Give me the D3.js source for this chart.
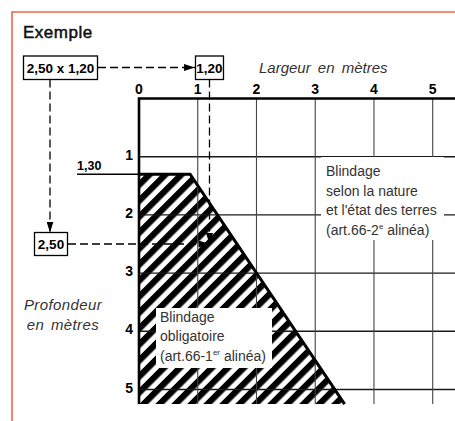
<!DOCTYPE html>
<html>
<head>
<meta charset="utf-8">
<script src="https://cdn.jsdelivr.net/npm/d3@7"></script>
<style>
  body { margin: 0; background: #fff; }
  svg { display: block; font-family: "Liberation Sans", Arial, sans-serif; }
</style>
</head>
<body>
<div id="vis-container"></div>
<script>
// Set dimensions for the drawing
const width = 455;
const height = 421;

// data
const xTicks = [0, 1, 2, 3, 4, 5];          // largeur en mètres
const yTicks = [1, 2, 3, 4, 5];             // profondeur en mètres
const yMax = 5.25;
// zone of mandatory shoring: [largeur, profondeur]
const zone = [[0, 1.3], [0.87, 1.3], [3.5, 5.25], [0, 5.25]];
const minDepth = 1.3;
const exampleDepth = 2.5;
const exampleWidth = 1.2;
const exampleLabel = "2,50 x 1,20";
const depthLabel = "2,50";
const widthLabel = "1,20";
const minDepthLabel = "1,30";
const noteRight = ["Blindage", "selon la nature", "et l'état des terres", ["(art.66-2", "e", " alinéa)"]];
const noteLeft = ["Blindage", "obligatoire", ["(art.66-1", "er", " alinéa)"]];

const svg = d3.select("#vis-container")
  .append("svg")
  .attr("width", width)
  .attr("height", height);

const xScale = d3.scaleLinear().domain([0, 5]).range([139, 432.7]);
const yScale = d3.scaleLinear().domain([0, 5]).range([98.5, 389.5]);

const defs = svg.append("defs");

// hatch pattern for the zone
const pat = defs.append("pattern")
  .attr("id", "hatch")
  .attr("patternUnits", "userSpaceOnUse")
  .attr("width", 11.3)
  .attr("height", 11.3)
  .attr("patternTransform", "rotate(45)");
pat.append("rect").attr("width", 11.3).attr("height", 11.3).attr("fill", "#fff");
pat.append("rect").attr("width", 6.2).attr("height", 11.3).attr("fill", "#000");

defs.append("marker")
  .attr("id", "arrow")
  .attr("viewBox", "0 0 11 7")
  .attr("refX", 11)
  .attr("refY", 3.5)
  .attr("markerWidth", 11)
  .attr("markerHeight", 7)
  .attr("markerUnits", "userSpaceOnUse")
  .attr("orient", "auto")
  .append("path")
  .attr("d", "M0,0 L11,3.5 L0,7 Z")
  .attr("fill", "#000");

// orange frame (only top and left visible)
svg.append("path")
  .attr("d", `M12,${height} L12,12 L${width},12`)
  .attr("fill", "none")
  .attr("stroke", "#f26448")
  .attr("stroke-width", 1.6);

svg.append("text")
  .attr("x", 23)
  .attr("y", 37.5)
  .attr("font-size", "17px")
  .attr("letter-spacing", "0.5px")
  .attr("fill", "#111")
  .attr("stroke", "#111")
  .attr("stroke-width", 0.5)
  .text("Exemple");

// hatched zone
const zoneLine = d3.line().x(d => xScale(d[0])).y(d => yScale(d[1]));
svg.append("path")
  .attr("d", zoneLine(zone) + "Z")
  .attr("fill", "url(#hatch)");

// horizontal grid lines
svg.append("g")
  .selectAll("line")
  .data(yTicks)
  .join("line")
  .attr("x1", xScale(0))
  .attr("x2", width)
  .attr("y1", d => yScale(d))
  .attr("y2", d => yScale(d))
  .attr("stroke", "#1a1a1a")
  .attr("stroke-width", 1.4);

// vertical grid lines
svg.append("g")
  .selectAll("line")
  .data(xTicks.filter(d => d > 0))
  .join("line")
  .attr("x1", d => xScale(d))
  .attr("x2", d => xScale(d))
  .attr("y1", yScale(0))
  .attr("y2", yScale(yMax))
  .attr("stroke", "#444")
  .attr("stroke-width", 1.1);

// zone outline (top and slope)
svg.append("path")
  .attr("d", zoneLine(zone.slice(0, 3)))
  .attr("fill", "none")
  .attr("stroke", "#000")
  .attr("stroke-width", 3);

// axes
svg.append("path")
  .attr("d", `M${xScale(0)},${yScale(yMax)} L${xScale(0)},${yScale(0)} L${width},${yScale(0)}`)
  .attr("fill", "none")
  .attr("stroke", "#000")
  .attr("stroke-width", 2.6);

svg.append("g")
  .selectAll("text")
  .data(xTicks)
  .join("text")
  .attr("x", d => xScale(d))
  .attr("y", 93.5)
  .attr("text-anchor", "middle")
  .attr("font-size", "14px")
  .attr("font-weight", "bold")
  .text(d => d);

svg.append("g")
  .selectAll("text")
  .data(yTicks)
  .join("text")
  .attr("x", 133)
  .attr("y", d => yScale(d) + 3)
  .attr("text-anchor", "end")
  .attr("font-size", "14px")
  .attr("font-weight", "bold")
  .text(d => d);

svg.append("text")
  .attr("x", 259)
  .attr("y", 73)
  .attr("font-size", "15px")
  .attr("font-style", "italic")
  .attr("fill", "#333")
  .attr("word-spacing", "3px")
  .text("Largeur en mètres");

svg.append("g")
  .selectAll("text")
  .data(["Profondeur", "en mètres"])
  .join("text")
  .attr("x", 63)
  .attr("y", (d, i) => 310 + i * 20)
  .attr("text-anchor", "middle")
  .attr("font-size", "15px")
  .attr("font-style", "italic")
  .attr("letter-spacing", "0.4px")
  .attr("fill", "#333")
  .attr("word-spacing", "2px")
  .text(d => d);

// 1,30 marker
svg.append("line")
  .attr("x1", 77)
  .attr("x2", xScale(0))
  .attr("y1", yScale(minDepth))
  .attr("y2", yScale(minDepth))
  .attr("stroke", "#000")
  .attr("stroke-width", 1.5);
svg.append("text")
  .attr("x", 77)
  .attr("y", 169.5)
  .attr("font-size", "12.5px")
  .attr("font-weight", "bold")
  .text(minDepthLabel);

// dashed guide lines
const dash = (x1, y1, x2, y2) => svg.append("line")
  .attr("x1", x1).attr("y1", y1).attr("x2", x2).attr("y2", y2)
  .attr("stroke", "#000")
  .attr("stroke-width", 1.3)
  .attr("stroke-dasharray", "8,4")
  .attr("marker-end", "url(#arrow)");

const ex = xScale(exampleWidth);
const ey = yScale(exampleDepth);
dash(98, 67.5, 195, 67.5);
dash(50, 79.5, 50, 232.5);
dash(68, ey, ex, ey);
dash(ex, 79.5, ex, ey);

// boxed labels
const box = (x, y, w, h, label) => {
  svg.append("rect")
    .attr("x", x).attr("y", y).attr("width", w).attr("height", h)
    .attr("fill", "#fff")
    .attr("stroke", "#000")
    .attr("stroke-width", 1.3);
  svg.append("text")
    .attr("x", x + w / 2)
    .attr("y", y + h / 2 + 4.8)
    .attr("text-anchor", "middle")
    .attr("font-size", "13.5px")
    .attr("font-weight", "bold")
    .text(label);
};
box(23.5, 56, 74, 23.5, exampleLabel);
box(ex - 14, 56, 28, 23.5, widthLabel);
box(34.5, ey - 11.5, 33, 23, depthLabel);

// notes with white backgrounds
const note = (x, y, w, h, lines, tx, ty) => {
  svg.append("rect")
    .attr("x", x).attr("y", y).attr("width", w).attr("height", h)
    .attr("fill", "#fff");
  lines.forEach((l, i) => {
    const t = svg.append("text")
      .attr("x", tx)
      .attr("y", ty + i * 19.5)
      .attr("font-size", "14px")
      .attr("fill", "#333");
    if (typeof l === "string") {
      t.text(l);
    } else {
      t.append("tspan").text(l[0]);
      t.append("tspan").attr("font-size", "8px").attr("dy", -5.5).text(l[1]);
      t.append("tspan").attr("dy", 5.5).text(l[2]);
    }
  });
};
note(321, 157, 123, 83, noteRight, 326, 176);
note(156, 308, 116, 60, noteLeft, 160, 321.5);
</script>
</body>
</html>
